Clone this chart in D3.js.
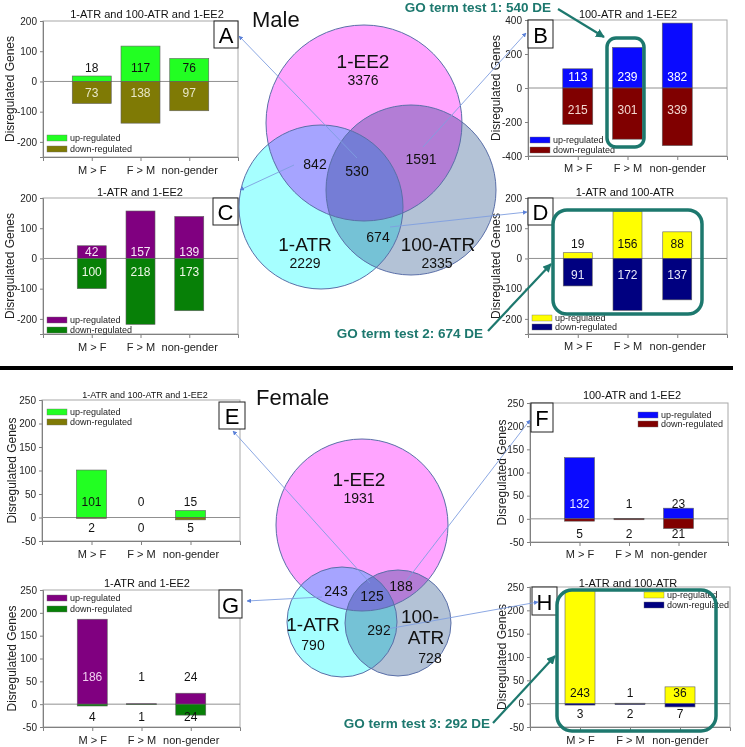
<!DOCTYPE html>
<html><head><meta charset="utf-8">
<script src="https://cdn.jsdelivr.net/npm/d3@7"></script>
<style>body{margin:0;background:#fff}svg{display:block;font-family:"Liberation Sans",Arial,sans-serif}</style>
</head><body><svg id="c" width="745" height="747"></svg>
<script>
// ---------- data ----------
const categories = ["M > F", "F > M", "non-gender"];
// Male
const maleAllUp = [18, 117, 76],      maleAllDown = [73, 138, 97];       // A: 1-ATR and 100-ATR and 1-EE2
const male100EE2Up = [113, 239, 382], male100EE2Down = [215, 301, 339];  // B: 100-ATR and 1-EE2
const male1EE2Up = [42, 157, 139],    male1EE2Down = [100, 218, 173];    // C: 1-ATR and 1-EE2
const maleATRUp = [19, 156, 88],      maleATRDown = [91, 172, 137];      // D: 1-ATR and 100-ATR
// Female
const femAllUp = [101, 0, 15],        femAllDown = [2, 0, 5];            // E
const fem100EE2Up = [132, 1, 23],     fem100EE2Down = [5, 2, 21];        // F
const fem1EE2Up = [186, 1, 24],       fem1EE2Down = [4, 1, 24];          // G
const femATRUp = [243, 1, 36],        femATRDown = [3, 2, 7];            // H
// tick labels
const ticksMale = [-200, -100, 0, 100, 200];
const ticksMaleB = [-400, -200, 0, 200, 400];
const ticksFemale = [-50, 0, 50, 100, 150, 200, 250];
// Venn counts [1-EE2, 1-ATR, 100-ATR], pairs [EE2&1ATR, EE2&100ATR, 1ATR&100ATR], all three
const vennSets = ["1-EE2", "1-ATR", "100-ATR"];
const maleVennOnly = [3376, 2229, 2335], maleVennPairs = [842, 1591, 674], maleVennAll = 530;
const femVennOnly = [1931, 790, 728],    femVennPairs = [243, 188, 292],   femVennAll = 125;
const goTests = ["GO term test 1: 540 DE", "GO term test 2: 674 DE", "GO term test 3: 292 DE"];

// ---------- drawing ----------
const svg = d3.select("#c");
const teal = "#1d786e";
const defs = svg.append("defs");
defs.append("marker").attr("id","ah").attr("viewBox","0 0 10 10").attr("refX",9).attr("refY",5)
  .attr("markerWidth",5).attr("markerHeight",5).attr("orient","auto")
  .append("path").attr("d","M0,0L10,5L0,10z").attr("fill","#5a80d8");
defs.append("marker").attr("id","aht").attr("viewBox","0 0 10 10").attr("refX",9).attr("refY",5)
  .attr("markerWidth",4).attr("markerHeight",4).attr("orient","auto")
  .append("path").attr("d","M0,0L10,5L0,10z").attr("fill",teal);

function panel(p) {
  const g = svg.append("g");
  const x = d3.scalePoint().domain(categories).range([p.x0, p.x1]).padding(1);
  const y = d3.scaleLinear().domain(p.domain).range([p.y1, p.y0]);
  // plot border
  g.append("rect").attr("x", p.x0).attr("y", p.y0).attr("width", p.x1 - p.x0).attr("height", p.y1 - p.y0)
    .attr("fill", "none").attr("stroke", "#a8a8a8").attr("stroke-width", 1);
  // y axis
  const ya = g.append("g").attr("transform", `translate(${p.x0},0)`)
    .call(d3.axisLeft(y).tickValues(p.ticks).tickFormat(d => String(d)).tickSize(3).tickPadding(3));
  ya.select(".domain").attr("stroke", "#808080");
  ya.selectAll(".tick line").attr("stroke", "#808080");
  ya.selectAll("text").attr("font-size", 10).attr("font-family", "Liberation Sans").attr("fill", "#222");
  // x axis ticks
  const xa = g.append("g").attr("transform", `translate(0,${p.y1})`)
    .call(d3.axisBottom(x).tickSize(4));
  xa.select(".domain").attr("stroke", "#808080");
  xa.selectAll(".tick line").attr("stroke", "#808080");
  xa.selectAll("text").attr("font-size", 11).attr("font-family", "Liberation Sans").attr("fill", "#222")
    .attr("dy", null).attr("dominant-baseline", "central").attr("y", p.xlabY - p.y1);
  // zero line
  g.append("line").attr("x1", p.x0).attr("x2", p.x1).attr("y1", y(0)).attr("y2", y(0))
    .attr("stroke", "#909090").attr("stroke-width", 1);
  const bw = p.bw;
  // up bars
  g.selectAll(".up").data(p.up).join("rect")
    .attr("x", (d, i) => x(categories[i]) - bw / 2).attr("width", bw)
    .attr("y", d => y(d)).attr("height", d => y(0) - y(d))
    .attr("fill", p.cUp).attr("stroke", "#606060").attr("stroke-width", 0.6);
  // down bars
  g.selectAll(".dn").data(p.down).join("rect")
    .attr("x", (d, i) => x(categories[i]) - bw / 2).attr("width", bw)
    .attr("y", y(0)).attr("height", d => y(-d) - y(0))
    .attr("fill", p.cDown).attr("stroke", "#606060").attr("stroke-width", 0.6);
  // value labels
  g.selectAll(".ul").data(p.up).join("text")
    .attr("x", (d, i) => x(categories[i])).attr("y", y(0) + p.upOff)
    .attr("text-anchor", "middle").attr("dominant-baseline", "central")
    .attr("font-size", 12).attr("fill", (d, i) => p.upTxt[i]).text(d => d);
  g.selectAll(".dl").data(p.down).join("text")
    .attr("x", (d, i) => x(categories[i])).attr("y", y(0) + p.dnOff)
    .attr("text-anchor", "middle").attr("dominant-baseline", "central")
    .attr("font-size", 12).attr("fill", (d, i) => p.dnTxt[i]).text(d => d);
  // title
  g.append("text").attr("x", p.tx).attr("y", p.ty).attr("text-anchor", "middle")
    .attr("dominant-baseline", "central").attr("font-size", p.tfs).attr("fill", "#111").text(p.title);
  // axis title
  const ym = (p.y0 + p.y1) / 2;
  g.append("text").attr("transform", `translate(${p.ax},${ym}) rotate(-90)`)
    .attr("text-anchor", "middle").attr("dominant-baseline", "central")
    .attr("font-size", 12).attr("fill", "#222").text("Disregulated Genes");
  // legend
  [["up-regulated", p.cUp, p.ly[0]], ["down-regulated", p.cDown, p.ly[1]]].forEach(([t, c, ly]) => {
    g.append("rect").attr("x", p.lx).attr("y", ly - 3).attr("width", 20).attr("height", 6)
      .attr("fill", c).attr("stroke", "#707070").attr("stroke-width", 0.4);
    g.append("text").attr("x", p.lx + 23).attr("y", ly).attr("dominant-baseline", "central")
      .attr("font-size", 9).attr("fill", "#222").text(t);
  });
  // letter box
  const b = p.box;
  g.append("rect").attr("x", b[0]).attr("y", b[1]).attr("width", b[2] - b[0]).attr("height", b[3] - b[1])
    .attr("fill", "#fff").attr("stroke", "#222").attr("stroke-width", 1);
  g.append("text").attr("x", (b[0] + b[2]) / 2).attr("y", (b[1] + b[3]) / 2 + 1)
    .attr("text-anchor", "middle").attr("dominant-baseline", "central")
    .attr("font-size", 22).attr("fill", "#000").text(p.letter);
}

const W = "#ffffff", K = "#111111";
panel({letter:"A", title:"1-ATR and 100-ATR and 1-EE2", tx:147, ty:14, tfs:11,
  x0:43, x1:238, y0:21, y1:157, domain:[-250,200], ticks:ticksMale, bw:39,
  up:maleAllUp, down:maleAllDown, cUp:"#22ff22", cDown:"#7f7a05",
  upOff:-13, dnOff:12, upTxt:[K,K,K], dnTxt:["#e8e8c8","#e8e8c8","#e8e8c8"],
  ax:10, xlabY:170, lx:47, ly:[138,149], box:[214,21,238,48]});
panel({letter:"B", title:"100-ATR and 1-EE2", tx:628, ty:14, tfs:11,
  x0:528, x1:727, y0:20, y1:156, domain:[-400,400], ticks:ticksMaleB, bw:30,
  up:male100EE2Up, down:male100EE2Down, cUp:"#0a0aff", cDown:"#800000",
  upOff:-11, dnOff:22, upTxt:[W,W,W], dnTxt:["#f3d8d0","#f3d8d0","#f3d8d0"],
  ax:496, xlabY:168, lx:530, ly:[140,150], box:[528,20,553,48]});
panel({letter:"C", title:"1-ATR and 1-EE2", tx:140, ty:192, tfs:11,
  x0:43, x1:238, y0:198, y1:334, domain:[-250,200], ticks:ticksMale, bw:29,
  up:male1EE2Up, down:male1EE2Down, cUp:"#800080", cDown:"#078007",
  upOff:-6, dnOff:14, upTxt:["#f6e6f6","#f6e6f6","#f6e6f6"], dnTxt:["#f0f8e8","#f0f8e8","#f0f8e8"],
  ax:10, xlabY:347, lx:47, ly:[320,330], box:[213,198,238,225]});
panel({letter:"D", title:"1-ATR and 100-ATR", tx:625, ty:192, tfs:11,
  x0:528, x1:727, y0:198, y1:334, domain:[-250,200], ticks:ticksMale, bw:29,
  up:maleATRUp, down:maleATRDown, cUp:"#ffff00", cDown:"#000080",
  upOff:-14, dnOff:17, upTxt:[K,K,K], dnTxt:["#e8e8f8","#e8e8f8","#e8e8f8"],
  ax:496, xlabY:346, lx:532, ly:[318,327], box:[528,198,553,225]});
panel({letter:"E", title:"1-ATR and 100-ATR and 1-EE2", tx:145, ty:395, tfs:9,
  x0:42, x1:240, y0:400, y1:541, domain:[-50,250], ticks:ticksFemale, bw:30,
  up:femAllUp, down:femAllDown, cUp:"#22ff22", cDown:"#7f7a05",
  upOff:-16, dnOff:10, upTxt:[K,K,K], dnTxt:[K,K,K],
  ax:12, xlabY:554, lx:47, ly:[412,422], box:[219,402,245,429]});
panel({letter:"F", title:"100-ATR and 1-EE2", tx:632, ty:395, tfs:11,
  x0:530, x1:728, y0:403, y1:542, domain:[-50,250], ticks:ticksFemale, bw:30,
  up:fem100EE2Up, down:fem100EE2Down, cUp:"#0a0aff", cDown:"#800000",
  upOff:-15, dnOff:15, upTxt:["#e8e8ff",K,K], dnTxt:[K,K,K],
  ax:502, xlabY:554, lx:638, ly:[415,424], box:[531,403,553,432]});
panel({letter:"G", title:"1-ATR and 1-EE2", tx:147, ty:583, tfs:11,
  x0:43, x1:240, y0:590, y1:727, domain:[-50,250], ticks:ticksFemale, bw:30,
  up:fem1EE2Up, down:fem1EE2Down, cUp:"#800080", cDown:"#078007",
  upOff:-27, dnOff:13, upTxt:["#f0d0f0",K,K], dnTxt:[K,K,K],
  ax:12, xlabY:740, lx:47, ly:[598,609], box:[219,590,242,618]});
panel({letter:"H", title:"1-ATR and 100-ATR", tx:628, ty:583, tfs:11,
  x0:530, x1:730, y0:587, y1:727, domain:[-50,250], ticks:ticksFemale, bw:30,
  up:femATRUp, down:femATRDown, cUp:"#ffff00", cDown:"#000080",
  upOff:-11, dnOff:10, upTxt:[K,K,K], dnTxt:[K,K,K],
  ax:502, xlabY:740, lx:644, ly:[595,605], box:[532,587,557,615]});

// separator
svg.append("rect").attr("x", 0).attr("y", 366).attr("width", 733).attr("height", 4).attr("fill", "#000");

// ---------- Venn diagrams ----------
const vennColors = ["#ffa4ff", "#a6ffff", "#b3c2d6"];
function venn(v) {
  const g = svg.append("g");
  g.selectAll("circle.f").data(v.circles).join("circle")
    .attr("cx", d => d[0]).attr("cy", d => d[1]).attr("r", d => d[2])
    .attr("fill", (d, i) => vennColors[i]).style("mix-blend-mode", "multiply");
  g.selectAll("circle.s").data(v.circles).join("circle")
    .attr("cx", d => d[0]).attr("cy", d => d[1]).attr("r", d => d[2])
    .attr("fill", "none").attr("stroke", "#5a6fa8").attr("stroke-width", 1);
  g.append("text").attr("x", v.title[0]).attr("y", v.title[1]).attr("font-size", 22).attr("fill", "#111").text(v.titleText);
  v.setLabels.forEach((pos, i) => {
    const lines = pos.split ? pos.split : [vennSets[i]];
    lines.forEach((t, k) => g.append("text").attr("x", pos.x[k]).attr("y", pos.y[k])
      .attr("text-anchor", "middle").attr("dominant-baseline", "central").attr("font-size", 19).attr("fill", "#111").text(t));
    g.append("text").attr("x", pos.nx).attr("y", pos.ny).attr("text-anchor", "middle")
      .attr("dominant-baseline", "central").attr("font-size", 14).attr("fill", "#111").text(v.only[i]);
  });
  v.pairPos.forEach((pp, i) => g.append("text").attr("x", pp[0]).attr("y", pp[1]).attr("text-anchor", "middle")
    .attr("dominant-baseline", "central").attr("font-size", 14).attr("fill", "#111").text(v.pairs[i]));
  g.append("text").attr("x", v.allPos[0]).attr("y", v.allPos[1]).attr("text-anchor", "middle")
    .attr("dominant-baseline", "central").attr("font-size", 14).attr("fill", "#111").text(v.all);
  // connectors
  v.links.forEach(l => g.append("line").attr("x1", l[0]).attr("y1", l[1]).attr("x2", l[2]).attr("y2", l[3])
    .attr("stroke", "#7f9ee0").attr("stroke-width", 0.9).attr("marker-end", "url(#ah)"));
}
venn({titleText:"Male", title:[252,27], circles:[[364,123,98],[321,207,82],[411,190,85]],
  only:maleVennOnly, pairs:maleVennPairs, all:maleVennAll,
  setLabels:[{x:[363],y:[61],nx:363,ny:80},{x:[305],y:[244],nx:305,ny:263},{x:[438],y:[244],nx:437,ny:263}],
  pairPos:[[315,164],[421,159],[378,237]], allPos:[357,171],
  links:[[357,158,239,36],[423,147,526,33],[294,165,240,190],[390,227,527,212]]});
venn({titleText:"Female", title:[256,405], circles:[[362,525,86],[342,622,55],[398,623,53]],
  only:femVennOnly, pairs:femVennPairs, all:femVennAll,
  setLabels:[{x:[359],y:[479],nx:359,ny:498},{x:[313],y:[624],nx:313,ny:645},{split:["100-","ATR"],x:[420,426],y:[616,637],nx:430,ny:658}],
  pairPos:[[336,591],[401,586],[379,630]], allPos:[372,596],
  links:[[370,583,233,431],[407,580,530,420],[322,597,247,601],[387,629,538,602]]});

// ---------- GO term highlights ----------
const hl = svg.append("g");
[[607,38,37,109,9],[553,210,149,104,14],[557,590,159,141,15]].forEach(r =>
  hl.append("rect").attr("x", r[0]).attr("y", r[1]).attr("width", r[2]).attr("height", r[3])
    .attr("rx", r[4]).attr("fill", "none").attr("stroke", teal).attr("stroke-width", 3.5));
[[551,12],[483,338],[490,728]].forEach((p, i) =>
  hl.append("text").attr("x", p[0]).attr("y", p[1]).attr("text-anchor", "end").attr("font-size", 13.5)
    .attr("font-weight", "bold").attr("fill", teal).text(goTests[i]));
[[558,9,604,37],[488,331,551,264],[493,723,555,656]].forEach(a =>
  hl.append("line").attr("x1", a[0]).attr("y1", a[1]).attr("x2", a[2]).attr("y2", a[3])
    .attr("stroke", teal).attr("stroke-width", 2.2).attr("marker-end", "url(#aht)"));
</script></body></html>
